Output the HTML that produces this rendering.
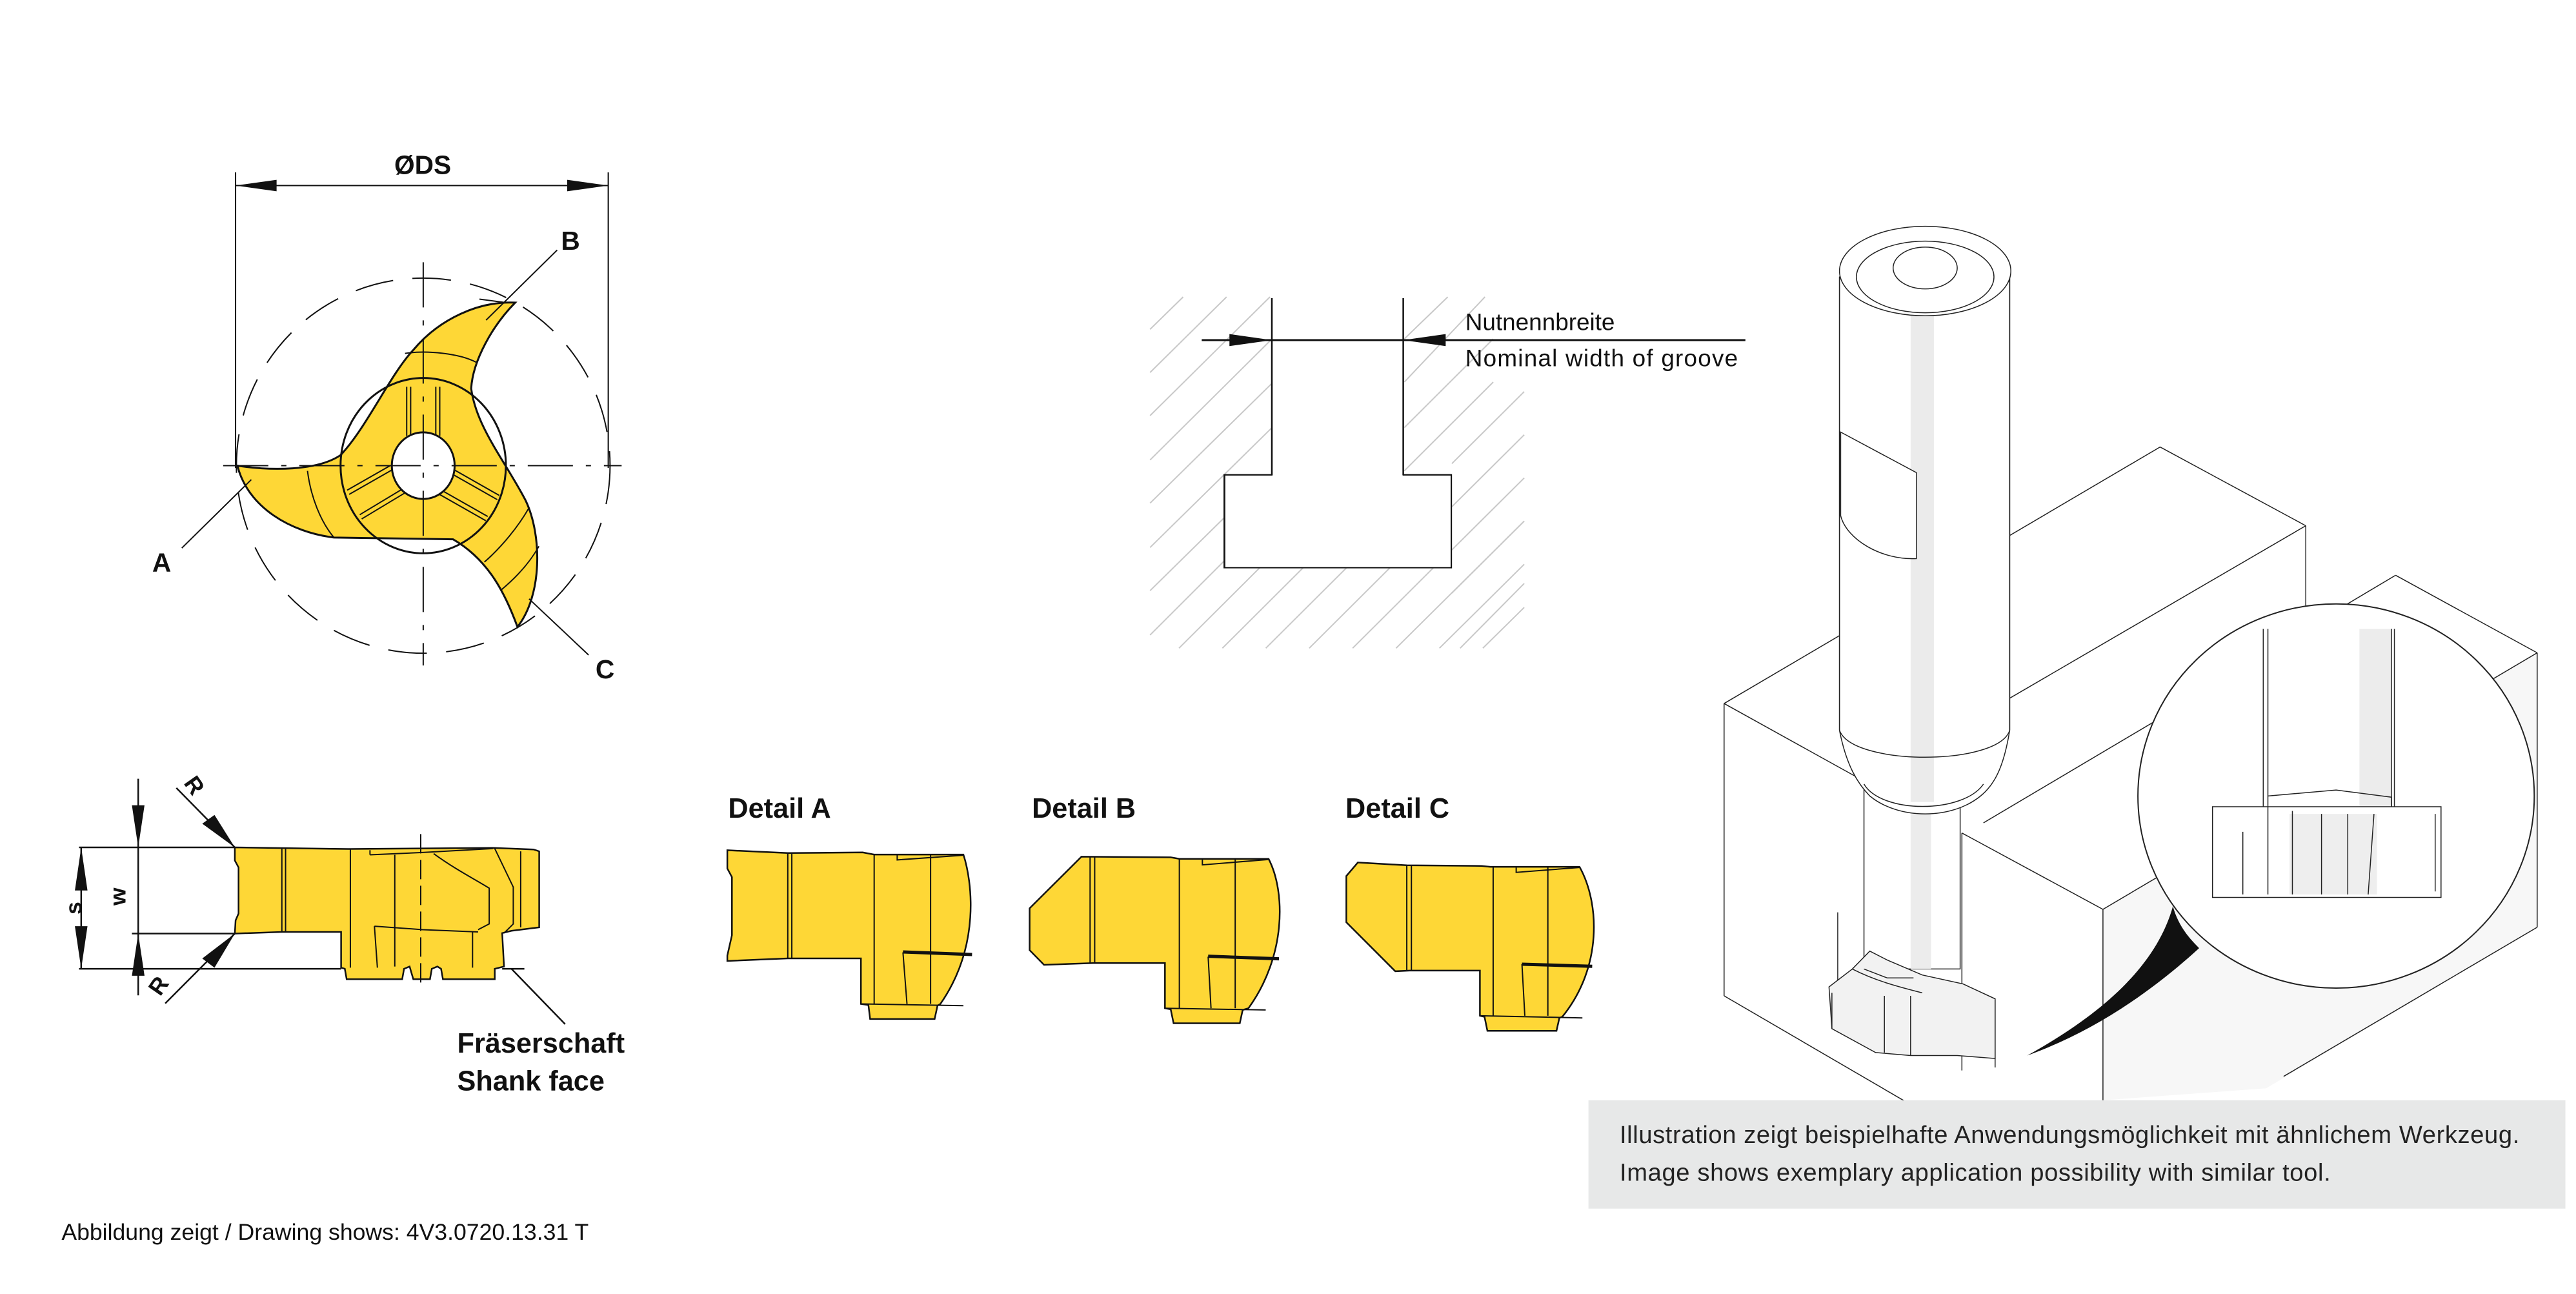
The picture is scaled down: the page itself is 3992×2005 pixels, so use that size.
<!DOCTYPE html>
<html><head><meta charset="utf-8"><style>
html,body{margin:0;padding:0;background:#fff}
svg{display:block}
.s *{vector-effect:non-scaling-stroke}
text{font-family:"Liberation Sans",sans-serif}
</style></head><body>
<svg width="3992" height="2005" viewBox="0 0 1568 788" xmlns="http://www.w3.org/2000/svg">
<rect width="1568" height="788" fill="#fff"/>

<!-- ===== Top view ===== -->
<g stroke="#111" fill="none" stroke-width="0.8">
  <line x1="143" y1="105" x2="143" y2="285"/>
  <line x1="370" y1="105" x2="370" y2="285"/>
  <line x1="143" y1="113" x2="370" y2="113"/>
</g>
<polygon points="143,113 168,109.5 168,116.5" fill="#111"/>
<polygon points="370,113 345,109.5 345,116.5" fill="#111"/>
<text x="257" y="106" font-size="16" font-weight="bold" text-anchor="middle" fill="#111">ØDS</text>

<g class="s" transform="translate(98.2,78.6) scale(0.2014,0.2135)">
  <ellipse cx="790" cy="960" rx="565" ry="535" fill="none" stroke="#111" stroke-width="2" stroke-dasharray="60,30"/>
  <path d="M1068,495 C1000,560 940,660 935,740 C950,850 1040,950 1100,1060 C1150,1160 1150,1330 1075,1420 C1040,1330 990,1230 880,1170 L520,1165 C390,1150 260,1080 228,960 C330,975 470,975 540,930 C620,850 690,700 760,630 C840,540 960,490 1068,495 Z" fill="#fed736" stroke="#111" stroke-width="3"/>
  <circle cx="790" cy="960" r="250" fill="none" stroke="#111" stroke-width="3"/>
  <g stroke="#111" stroke-width="2" fill="none">
    <line x1="740" y1="735" x2="740" y2="875"/><line x1="752" y1="735" x2="752" y2="875"/>
    <line x1="828" y1="735" x2="828" y2="875"/><line x1="840" y1="735" x2="840" y2="875"/>
    <line x1="560" y1="1030" x2="690" y2="960"/><line x1="566" y1="1042" x2="696" y2="972"/>
    <line x1="598" y1="1100" x2="730" y2="1025"/><line x1="604" y1="1112" x2="736" y2="1037"/>
    <line x1="880" y1="970" x2="1020" y2="1045"/><line x1="874" y1="982" x2="1014" y2="1057"/>
    <line x1="845" y1="1030" x2="985" y2="1105"/><line x1="839" y1="1042" x2="979" y2="1117"/>
    <path d="M440,975 C450,1050 480,1120 520,1165"/>
    <path d="M735,640 C800,630 900,640 950,665"/>
    <path d="M975,1235 C1030,1190 1080,1130 1110,1080"/>
    <path d="M1025,1315 C1070,1280 1110,1240 1140,1190"/>
    <path d="M960,485 L1040,495 L1068,495"/>
  </g>
  <circle cx="790" cy="960" r="95" fill="#fff" stroke="#111" stroke-width="3"/>
  <g stroke="#111" stroke-width="2" fill="none" stroke-dasharray="70,20,8,20">
    <line x1="185" y1="960" x2="1390" y2="960"/>
    <line x1="790" y1="380" x2="790" y2="1530"/>
  </g>
  <g stroke="#111" stroke-width="2" fill="none">
    <line x1="1195" y1="345" x2="980" y2="545"/>
    <line x1="60" y1="1195" x2="270" y2="1000"/>
    <line x1="1290" y1="1500" x2="1110" y2="1340"/>
  </g>
</g>
<text x="347" y="152" font-size="16" font-weight="bold" text-anchor="middle" fill="#111">B</text>
<text x="98" y="348" font-size="16" font-weight="bold" text-anchor="middle" fill="#111">A</text>
<text x="368" y="413" font-size="16" font-weight="bold" text-anchor="middle" fill="#111">C</text>

<!-- ===== Groove ===== -->
<g class="s" transform="translate(687.4,172.8) scale(0.2518,0.146)">
  <g stroke="#c8c8c8" stroke-width="2">
    <line x1="50" y1="190" x2="130" y2="55"/><line x1="50" y1="370" x2="235" y2="55"/>
    <line x1="50" y1="550" x2="340" y2="55"/><line x1="50" y1="735" x2="345" y2="230"/>
    <line x1="50" y1="915" x2="345" y2="415"/><line x1="50" y1="1100" x2="345" y2="600"/>
    <line x1="50" y1="1280" x2="230" y2="975"/><line x1="50" y1="1465" x2="230" y2="1155"/>
    <line x1="120" y1="1520" x2="315" y2="1185"/><line x1="225" y1="1520" x2="420" y2="1185"/>
    <line x1="330" y1="1520" x2="525" y2="1185"/><line x1="435" y1="1520" x2="630" y2="1185"/>
    <line x1="540" y1="1520" x2="735" y2="1185"/><line x1="645" y1="1520" x2="955" y2="990"/>
    <line x1="750" y1="1520" x2="955" y2="1170"/><line x1="855" y1="1520" x2="955" y2="1350"/>
    <line x1="665" y1="230" x2="770" y2="55"/><line x1="665" y1="410" x2="860" y2="55"/>
    <line x1="665" y1="600" x2="880" y2="230"/><line x1="665" y1="780" x2="880" y2="410"/>
    <line x1="780" y1="930" x2="955" y2="630"/><line x1="780" y1="1110" x2="955" y2="810"/>
    <line x1="780" y1="1290" x2="955" y2="990"/><line x1="780" y1="750" x2="955" y2="450"/>
    <line x1="800" y1="1520" x2="955" y2="1250"/>
  </g>
  <path d="M345,60 L345,798 L230,798 L230,1183 L778,1183 L778,798 L662,798 L662,60" fill="#fff" stroke="#111" stroke-width="3"/>
  <rect x="346" y="40" width="315" height="760" fill="#fff"/>
  <rect x="232" y="800" width="545" height="382" fill="#fff"/>
  <line x1="345" y1="60" x2="345" y2="798" stroke="#111" stroke-width="2"/>
  <line x1="662" y1="60" x2="662" y2="798" stroke="#111" stroke-width="2"/>
  <line x1="175" y1="235" x2="1490" y2="235" stroke="#111" stroke-width="3"/>
  <polygon points="345,235 242,210 242,260" fill="#111"/>
  <polygon points="662,235 765,210 765,260" fill="#111"/>
</g>
<text x="892" y="201" font-size="14.5" fill="#111">Nutnennbreite</text>
<text x="892" y="223" font-size="14.5" fill="#111" textLength="166">Nominal width of groove</text>

<!-- ===== Side view ===== -->
<g class="s" transform="translate(31.4,459.5) scale(0.2255,0.1403)">
  <path d="M493,403 L800,410 L1190,405 L1300,412 L1315,420 L1315,750 L1240,765 L1215,775 L1220,920 L1195,930 L1195,975 L1055,975 L1050,930 L1040,920 L1025,930 L1020,975 L975,975 L965,920 L950,930 L945,975 L795,975 L790,930 L780,925 L780,770 L620,770 L493,777 L495,720 L503,690 L503,490 L493,460 Z" fill="#fed736" stroke="#111" stroke-width="2.5"/>
  <g stroke="#111" stroke-width="2" fill="none">
    <line x1="620" y1="408" x2="620" y2="770"/><line x1="630" y1="408" x2="630" y2="770"/>
    <line x1="805" y1="410" x2="805" y2="925"/><line x1="925" y1="435" x2="925" y2="920"/>
    <line x1="870" y1="745" x2="878" y2="925"/>
    <line x1="858" y1="415" x2="858" y2="435"/><path d="M858,435 L1000,425 L1190,408"/>
    <path d="M870,745 L1000,760 L1150,770"/>
    <path d="M1030,430 C1090,500 1140,540 1180,580 L1180,735 L1150,760"/>
    <path d="M1195,408 L1245,575 L1245,735 L1220,775"/>
    <line x1="1265" y1="420" x2="1265" y2="750"/>
    <line x1="1135" y1="770" x2="1135" y2="925"/>
  </g>
  <line x1="995" y1="345" x2="995" y2="1000" stroke="#111" stroke-width="2" stroke-dasharray="30,10"/>
  <g stroke="#111" stroke-width="2.5" fill="none">
    <line x1="72" y1="403" x2="493" y2="403"/>
    <line x1="215" y1="777" x2="493" y2="777"/>
    <line x1="72" y1="930" x2="780" y2="930"/>
    <line x1="1215" y1="930" x2="1275" y2="930"/>
    <line x1="232" y1="105" x2="232" y2="1045"/>
    <line x1="78" y1="403" x2="78" y2="930"/>
    <line x1="335" y1="145" x2="493" y2="403"/>
    <line x1="305" y1="1080" x2="493" y2="777"/>
    <line x1="1240" y1="930" x2="1385" y2="1170"/>
  </g>
  <polygon points="232,403 215,220 249,220" fill="#111"/>
  <polygon points="232,777 215,960 249,960" fill="#111"/>
  <polygon points="78,403 61,590 95,590" fill="#111"/>
  <polygon points="78,930 61,745 95,745" fill="#111"/>
  <polygon points="493,403 405,300 438,262" fill="#111"/>
  <polygon points="493,777 405,885 438,925" fill="#111"/>
</g>
<text transform="translate(76,546) rotate(-90)" font-size="14" font-weight="bold" text-anchor="middle" fill="#111">w</text>
<text transform="translate(49,553) rotate(-90)" font-size="14" font-weight="bold" text-anchor="middle" fill="#111">s</text>
<text transform="translate(114,481) rotate(55)" font-size="14" font-weight="bold" text-anchor="middle" fill="#111">R</text>
<text transform="translate(100,603) rotate(-55)" font-size="14" font-weight="bold" text-anchor="middle" fill="#111">R</text>
<text x="278" y="641" font-size="17" font-weight="bold" fill="#111">Fräserschaft</text>
<text x="278" y="664" font-size="17" font-weight="bold" fill="#111">Shank face</text>

<!-- ===== Details ===== -->
<text x="443" y="498" font-size="17" font-weight="bold" fill="#111">Detail A</text>
<text x="628" y="498" font-size="17" font-weight="bold" fill="#111">Detail B</text>
<text x="819" y="498" font-size="17" font-weight="bold" fill="#111">Detail C</text>
<g class="s" transform="translate(432,471.3) scale(0.3507,0.1309)">
  <g fill="#fed736" stroke="#111" stroke-width="2.5">
    <path d="M30,355 L135,368 L265,365 L285,375 L440,375 C455,500 470,800 400,1070 L395,1078 L390,1140 L278,1140 L275,1075 L262,1070 L262,858 L135,858 L30,870 L30,845 L38,750 L38,480 L30,440 Z"/>
    <path d="M645,385 L800,388 L815,395 L970,395 C1000,550 1000,850 935,1090 L925,1098 L920,1160 L805,1160 L800,1095 L790,1090 L790,880 L665,880 L580,888 L555,820 L555,625 Z"/>
    <path d="M1125,412 L1210,425 L1340,428 L1355,432 L1510,432 C1545,600 1550,900 1480,1130 L1475,1135 L1470,1195 L1350,1195 L1345,1130 L1337,1125 L1337,915 L1215,915 L1190,918 L1105,690 L1105,475 Z"/>
  </g>
  <g stroke="#111" stroke-width="2" fill="none">
    <line x1="135" y1="368" x2="135" y2="858"/><line x1="142" y1="368" x2="142" y2="858"/>
    <line x1="285" y1="375" x2="285" y2="1070"/><line x1="383" y1="375" x2="383" y2="1070"/>
    <line x1="335" y1="830" x2="342" y2="1070"/>
    <path d="M325,378 L325,400 L440,378"/>
    <line x1="262" y1="1070" x2="440" y2="1078"/>
    <line x1="660" y1="388" x2="660" y2="880"/><line x1="668" y1="388" x2="668" y2="880"/>
    <line x1="815" y1="395" x2="815" y2="1090"/><line x1="912" y1="395" x2="912" y2="1090"/>
    <line x1="865" y1="850" x2="870" y2="1090"/>
    <path d="M855,398 L855,423 L970,398"/>
    <line x1="790" y1="1090" x2="965" y2="1098"/>
    <line x1="1210" y1="425" x2="1210" y2="915"/><line x1="1218" y1="425" x2="1218" y2="915"/>
    <line x1="1360" y1="432" x2="1360" y2="1125"/><line x1="1455" y1="432" x2="1455" y2="1125"/>
    <line x1="1410" y1="885" x2="1415" y2="1125"/>
    <path d="M1400,435 L1400,458 L1510,435"/>
    <line x1="1337" y1="1125" x2="1515" y2="1135"/>
  </g>
  <g stroke="#111" stroke-width="5" fill="none">
    <line x1="335" y1="828" x2="455" y2="840"/>
    <line x1="865" y1="848" x2="988" y2="860"/>
    <line x1="1410" y1="885" x2="1532" y2="895"/>
  </g>
</g>

<text x="37" y="755" font-size="14" fill="#111">Abbildung zeigt / Drawing shows: 4V3.0720.13.31 T</text>

<!-- ===== 3D illustration ===== -->
<g class="s" transform="translate(1021.2,117.8) scale(0.355,0.3633)" stroke="#222" stroke-width="1.5" fill="none">
  <polygon points="80,855 828,425 1078,557 1078,700 1232,640 1475,770 1475,1230 1040,1480 730,1520 405,1530 80,1345" fill="#fff" stroke="none"/>
  <polygon points="730,1200 1475,770 1475,1230 1010,1500 730,1520" fill="#f7f7f7" stroke="none"/>
  <line x1="80" y1="855" x2="828" y2="425"/>
  <line x1="828" y1="425" x2="1078" y2="557"/>
  <line x1="1078" y1="557" x2="528" y2="870"/>
  <line x1="80" y1="855" x2="320" y2="985"/>
  <line x1="80" y1="855" x2="80" y2="1345"/>
  <line x1="80" y1="1345" x2="405" y2="1530"/>
  <line x1="488" y1="1072" x2="730" y2="1200"/>
  <line x1="488" y1="1072" x2="488" y2="1470"/>
  <line x1="730" y1="1200" x2="730" y2="1530"/>
  <line x1="730" y1="1200" x2="1475" y2="770"/>
  <line x1="1475" y1="770" x2="1475" y2="1230"/>
  <line x1="1475" y1="1230" x2="1040" y2="1480"/>
  <line x1="1232" y1="640" x2="1475" y2="770"/>
  <line x1="1232" y1="640" x2="1000" y2="775"/>
  <line x1="1078" y1="557" x2="1078" y2="720"/>
  <line x1="525" y1="1055" x2="1000" y2="780"/>
  <line x1="275" y1="1205" x2="275" y2="1350"/>
  <line x1="545" y1="1350" x2="545" y2="1465"/>
  <path d="M320,990 L320,1300 L485,1300 L485,990 Z" fill="#fff"/>
  <rect x="400" y="1000" width="35" height="300" fill="#ececec" stroke="none"/>
  <path d="M278,140 L278,900 C290,960 310,990 330,1010 C380,1050 470,1050 520,1010 C545,990 560,960 570,900 L570,140 Z" fill="#fff"/>
  <rect x="400" y="140" width="40" height="880" fill="#ebebeb" stroke="none"/>
  <path d="M278,140 L278,900 M570,140 L570,900"/>
  <path d="M278,900 C300,960 550,960 570,900"/>
  <path d="M320,990 C350,1040 490,1040 525,990"/>
  <ellipse cx="425" cy="130" rx="147" ry="75" fill="#fff"/>
  <ellipse cx="425" cy="140" rx="118" ry="60" fill="none"/>
  <ellipse cx="425" cy="125" rx="55" ry="35" fill="#fff"/>
  <path d="M280,400 L410,468 L410,612 C350,615 290,580 280,540 Z" fill="#fff"/>
  <path d="M260,1330 L300,1300 L330,1270 L360,1285 L420,1310 L490,1325 L545,1350 L545,1450 L480,1445 L400,1445 L340,1440 L265,1400 Z" fill="#f2f2f2"/>
  <path d="M300,1300 C340,1320 380,1330 420,1340 M320,1300 L360,1315 L405,1315 M355,1345 L355,1440 M400,1345 L400,1445 M265,1340 L265,1400"/>
  <ellipse cx="1130" cy="1010" rx="340" ry="322" fill="#fff" stroke-width="2"/>
  <rect x="1170" y="730" width="55" height="300" fill="#ececec" stroke="none"/>
  <line x1="1005" y1="730" x2="1005" y2="1030"/><line x1="1013" y1="730" x2="1013" y2="1030"/>
  <line x1="1225" y1="730" x2="1225" y2="1030"/><line x1="1230" y1="730" x2="1230" y2="1030"/>
  <rect x="918" y="1028" width="392" height="152" fill="#fff"/>
  <rect x="1050" y="1040" width="150" height="135" fill="#eee" stroke="none"/>
  <path d="M1013,1010 L1130,1000 L1225,1012 L1225,1028 M1013,1028 L1013,1175 M1055,1035 L1055,1175 M1105,1040 L1105,1175 M1150,1040 L1150,1175 M1195,1040 L1185,1175 M970,1070 L970,1175 M1300,1040 L1300,1170"/>
  <path d="M600,1445 C720,1380 820,1300 850,1195 C860,1230 880,1250 895,1265 C800,1350 700,1410 600,1445 Z" fill="#111" stroke="none"/>
</g>

<rect x="967" y="670" width="595" height="66" fill="#e7e8e8"/>
<text x="986" y="696" font-size="15" fill="#222" textLength="548">Illustration zeigt beispielhafte Anwendungsmöglichkeit mit ähnlichem Werkzeug.</text>
<text x="986" y="719" font-size="15" fill="#222" textLength="433">Image shows exemplary application possibility with similar tool.</text>
</svg>
</body></html>
